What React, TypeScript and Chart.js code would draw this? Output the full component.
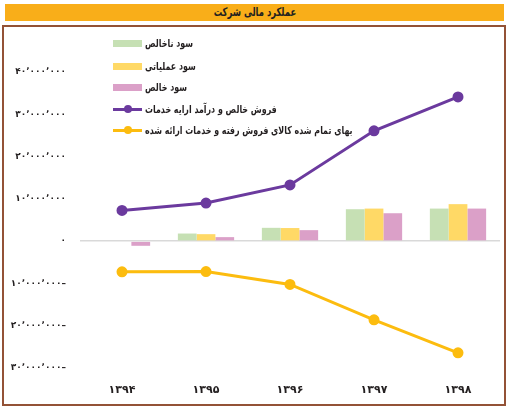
import React, { useEffect, useRef } from "react";
import { Chart, registerables } from "chart.js";

Chart.register(...registerables);

const categories = ["۱۳۹۴", "۱۳۹۵", "۱۳۹۶", "۱۳۹۷", "۱۳۹۸"];
const grossProfit = [0, 1800000, 3150000, 7550000, 7700000];
const operatingProfit = [0, 1650000, 3100000, 7700000, 8750000];
const netProfit = [-1100000, 950000, 2600000, 6600000, 7700000];
const netSales = [7250000, 9000000, 13300000, 26100000, 34100000];
const costOfSales = [-7250000, -7200000, -10250000, -18600000, -26400000];

const seriesNames = [
  "سود ناخالص",
  "سود عملیاتی",
  "سود خالص",
  "فروش خالص و درآمد ارایه خدمات",
  "بهای تمام شده کالای فروش رفته و خدمات ارائه شده",
];
const title = "عملکرد مالی شرکت";

const colors = ["#c6e0b4", "#ffd966", "#dba0c8", "#6b3a9e", "#fcbc0f"];

const faDigits = "۰۱۲۳۴۵۶۷۸۹";
function toFa(n: number): string {
  const abs = Math.abs(Math.round(n));
  const s = abs.toString().replace(/\B(?=(\d{3})+(?!\d))/g, ",");
  const fa = s
    .split("")
    .map((c) => (c === "," ? "٬" : faDigits[parseInt(c, 10)]))
    .join("");
  return n < 0 ? fa + "–" : fa;
}

const FONT = "'DejaVu Sans', sans-serif";
const TEXT_FONT = "'DejaVu Sans Condensed', 'DejaVu Sans', sans-serif";

export default function App() {
  const ref = useRef<HTMLCanvasElement | null>(null);

  useEffect(() => {
    if (!ref.current) return;
    const chart = new Chart(ref.current, {
      type: "bar",
      data: {
        labels: categories,
        datasets: [
          {
            type: "line",
            label: seriesNames[3],
            data: netSales,
            borderColor: colors[3],
            backgroundColor: colors[3],
            borderWidth: 3,
            pointRadius: 4,
            pointHoverRadius: 4,
            order: 0,
          },
          {
            type: "line",
            label: seriesNames[4],
            data: costOfSales,
            borderColor: colors[4],
            backgroundColor: colors[4],
            borderWidth: 3,
            pointRadius: 4,
            pointHoverRadius: 4,
            order: 0,
          },
          {
            type: "bar",
            label: seriesNames[0],
            data: grossProfit,
            backgroundColor: colors[0],
            order: 1,
            barPercentage: 1,
            categoryPercentage: 0.67,
          },
          {
            type: "bar",
            label: seriesNames[1],
            data: operatingProfit,
            backgroundColor: colors[1],
            order: 1,
            barPercentage: 1,
            categoryPercentage: 0.67,
          },
          {
            type: "bar",
            label: seriesNames[2],
            data: netProfit,
            backgroundColor: colors[2],
            order: 1,
            barPercentage: 1,
            categoryPercentage: 0.67,
          },
        ],
      },
      options: {
        animation: false,
        responsive: false,
        maintainAspectRatio: false,
        layout: { padding: { left: 0, right: 6, top: 47, bottom: 0 } },
        plugins: {
          legend: { display: false },
          tooltip: { enabled: false },
        },
        scales: {
          x: {
            grid: { display: false, drawTicks: false },
            border: { display: false },
            ticks: {
              padding: 16,
              color: "#231f20",
              font: { family: FONT, size: 11, weight: "bold" },
            },
            afterFit: (s: any) => {
              s.height = 41;
            },
          },
          y: {
            min: -30000000,
            max: 40000000,
            grid: {
              drawTicks: false,
              color: (ctx: any) =>
                ctx.tick && ctx.tick.value === 0 ? "#d9d9d9" : "rgba(0,0,0,0)",
              lineWidth: 1.5,
            },
            border: { display: false },
            ticks: {
              stepSize: 10000000,
              padding: 14,
              color: "#231f20",
              font: { family: FONT, size: 9, weight: "bold" },
              callback: (v: any) => toFa(Number(v)),
            },
            afterFit: (s: any) => {
              s.width = 80;
            },
          },
        },
      },
    });
    return () => chart.destroy();
  }, []);

  const legendRows = [
    { kind: "box", color: colors[0], text: seriesNames[0], y: 43.5 },
    { kind: "box", color: colors[1], text: seriesNames[1], y: 66 },
    { kind: "box", color: colors[2], text: seriesNames[2], y: 87.5 },
    { kind: "line", color: colors[3], text: seriesNames[3], y: 109 },
    { kind: "line", color: colors[4], text: seriesNames[4], y: 130 },
  ];

  return (
    <div
      style={{
        position: "absolute",
        left: 0,
        top: 0,
        width: 507,
        height: 409,
        background: "#fff",
        fontFamily: TEXT_FONT,
      }}
    >
      <div
        style={{
          position: "absolute",
          left: 5,
          top: 4,
          width: 499,
          height: 17,
          background: "#f9ae19",
          color: "#231f20",
          fontWeight: "bold",
          fontSize: 12,
          lineHeight: "17px",
          textAlign: "center",
        }}
      >
        <span style={{ display: "inline-block", transform: "scaleX(0.78)" }}>{title}</span>
      </div>
      <div
        style={{
          position: "absolute",
          left: 2,
          top: 25,
          width: 500,
          height: 377,
          border: "2px solid #935236",
        }}
      />
      <canvas
        ref={ref}
        width={507}
        height={384}
        style={{ position: "absolute", left: 0, top: 25, width: 507, height: 384 }}
      />
      {legendRows.map((r, i) => (
        <div
          key={i}
          style={{
            position: "absolute",
            left: 113,
            top: r.y - 8,
            height: 16,
            display: "flex",
            alignItems: "center",
            whiteSpace: "nowrap",
          }}
        >
          {r.kind === "box" ? (
            <div style={{ width: 29, height: 7, background: r.color }} />
          ) : (
            <div style={{ position: "relative", width: 29, height: 8 }}>
              <div
                style={{
                  position: "absolute",
                  left: 0,
                  top: 2.5,
                  width: 29,
                  height: 3,
                  background: r.color,
                }}
              />
              <div
                style={{
                  position: "absolute",
                  left: 11,
                  top: 0,
                  width: 8,
                  height: 8,
                  borderRadius: 4,
                  background: r.color,
                }}
              />
            </div>
          )}
          <span
            style={{
              marginLeft: 3,
              display: "inline-block",
              fontSize: 11,
              fontWeight: "bold",
              color: "#231f20",
              transform: "scaleX(0.8)",
              transformOrigin: "left center",
            }}
          >
            {r.text}
          </span>
        </div>
      ))}
    </div>
  );
}
